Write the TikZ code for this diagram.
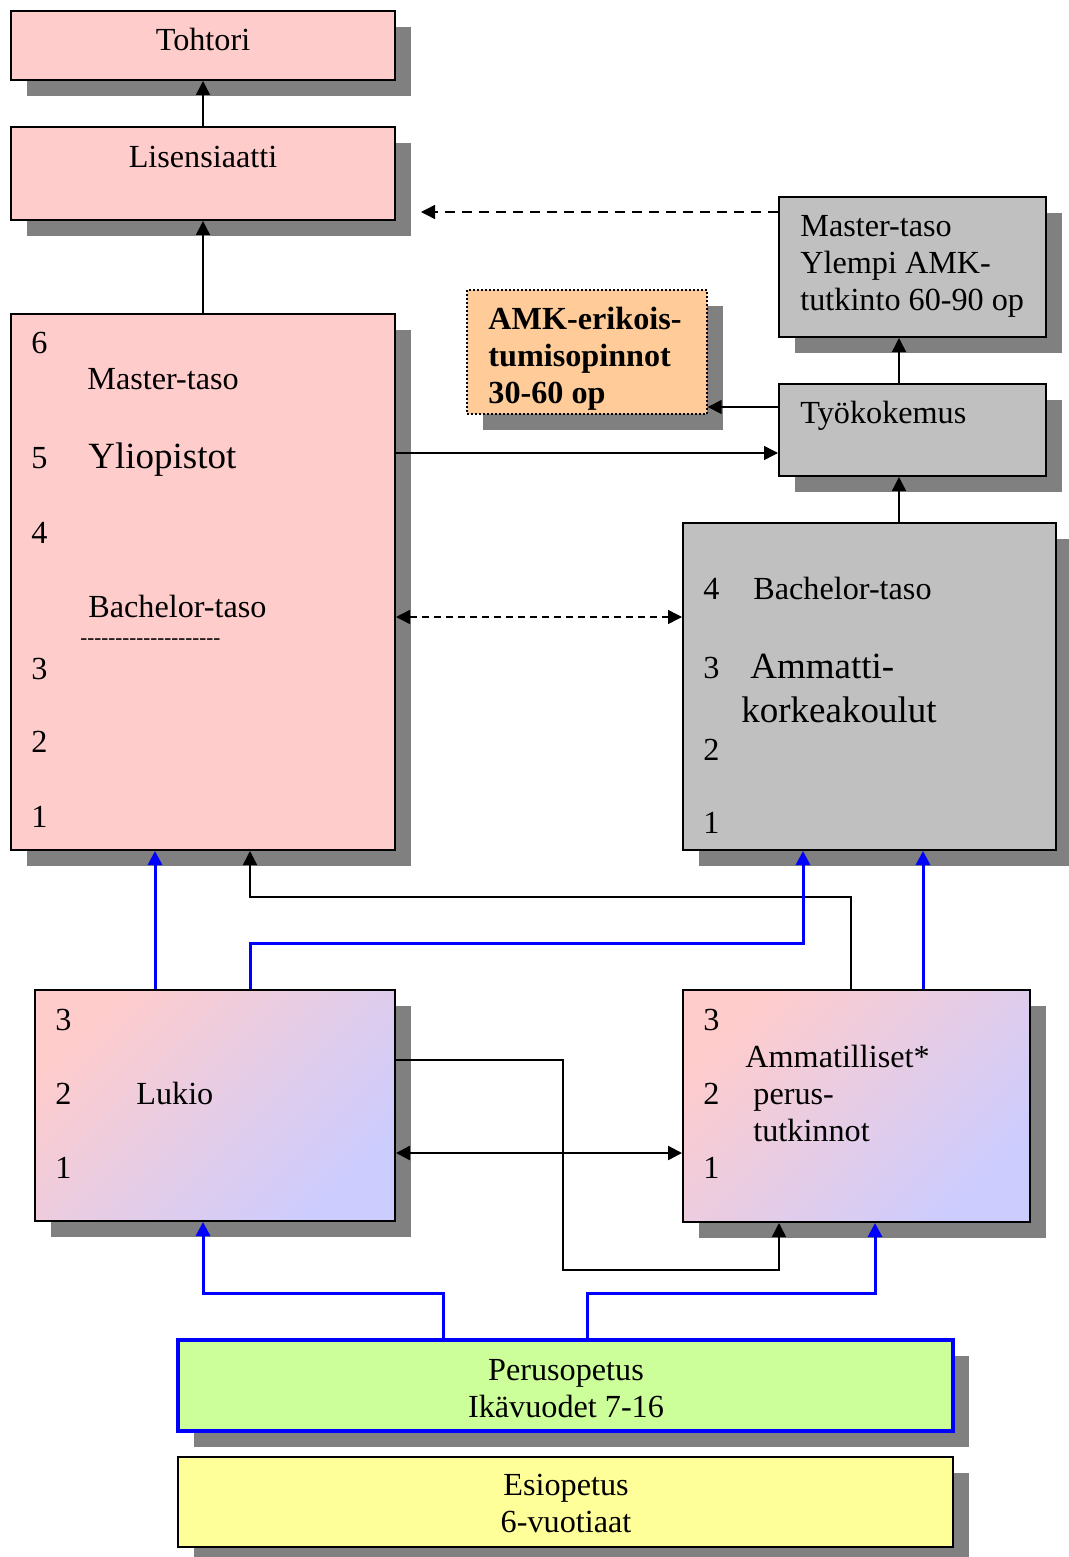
\documentclass[tikz,border=0pt]{standalone}
\usepackage{fontspec}
\setmainfont{Liberation Serif}[Ligatures=TeXOff]
\usepackage{tikz}
\usetikzlibrary{arrows.meta,calc,shadows,positioning}
\definecolor{vpink}{HTML}{FFCCCC}
\definecolor{vgray}{HTML}{C0C0C0}
\definecolor{varjo}{HTML}{808080}
\definecolor{vorange}{HTML}{FFCC99}
\definecolor{vgreen}{HTML}{CCFF99}
\definecolor{vyellow}{HTML}{FFFF99}
\definecolor{vlila}{HTML}{CCCCFF}
\newcommand\tavallinen{\fontsize{16.1}{18.5}\selectfont}
\newcommand\isofontti{\fontsize{18.5}{22}\selectfont}
\tikzset{
    %Define standard arrow tip
    >={Triangle[length=7pt,width=7pt]},
    %Define style for boxes
    laatikko/.style={
           rectangle,
           draw=black, line width=1pt,
           inner sep=0pt,
           drop shadow={shadow xshift=8pt,shadow yshift=-8pt,fill=varjo,opacity=1}},
    pinkrect/.style={laatikko, fill=vpink},
    grayrect/.style={laatikko, fill=vgray},
    shadedrect/.style={
           laatikko,
           top color=vpink, bottom color=vlila,
           shading angle=45},
    orangerect/.style={laatikko, fill=vorange, densely dotted, line width=0.7pt},
    greenrect/.style={laatikko, fill=vgreen, draw=blue, line width=2pt},
    yellowrect/.style={laatikko, fill=vyellow},
    %Define style for texts (multi-line: base is the last line)
    teksti/.style={anchor=base west, inner sep=0pt, font=\tavallinen, align=left},
    iso/.style={teksti, font=\isofontti},
    % Define arrow style
    nuoli/.style={->, draw=black, line width=0.75pt},
    sininen/.style={->, draw=blue, line width=1.5pt}
}
\begin{document}
\begin{tikzpicture}[x=0.5pt,y=-0.5pt]
\useasboundingbox (0,0) rectangle (1069,1557);
 %boxes
\node[pinkrect, minimum width=192pt, minimum height=34.5pt] (toh) at (203,45.5) {};
\node[pinkrect, minimum width=192pt, minimum height=46.5pt] (lis) at (203,173.5) {};
\node[pinkrect, minimum width=192pt, minimum height=268pt] (yo) at (203,582) {};
\node[orangerect, minimum width=120pt, minimum height=62pt] (erik) at (587,352) {};
\node[grayrect, minimum width=133.5pt, minimum height=70pt] (yamk) at (912.5,267) {};
\node[grayrect, minimum width=133.5pt, minimum height=46pt] (tyo) at (912.5,430) {};
\node[grayrect, minimum width=186.5pt, minimum height=163.5pt] (amk) at (869.5,686.5) {};
\node[shadedrect, minimum width=180pt, minimum height=115.5pt] (lukio) at (215,1105.5) {};
\node[shadedrect, minimum width=173.5pt, minimum height=116pt] (amm) at (856.5,1106) {};
\node[greenrect, minimum width=387.5pt, minimum height=45.5pt] (peru) at (565.5,1385.5) {};
\node[yellowrect, minimum width=387.5pt, minimum height=45pt] (esi) at (565.5,1502) {};
 %texts
\node[teksti, anchor=base] (tohtxt) at (203,51) {Tohtori};
\node[teksti, anchor=base] (listxt) at (203,168) {Lisensiaatti};
\node[teksti] (y6) at (31,353) {6};
\node[teksti] (y5) at (31,468) {5};
\node[teksti] (y4) at (31,543) {4};
\node[teksti] (y3) at (31,679) {3};
\node[teksti] (y2) at (31,752) {2};
\node[teksti] (y1) at (31,827) {1};
\node[teksti] (ymaster) at (87,389) {Master-taso};
\node[iso] (yotxt) at (88,468) {Yliopistot};
\node[teksti] (ybach) at (88,617) {Bachelor-taso};
\node[teksti, font=\fontsize{10.5}{12}\selectfont] (yviiva) at (80,644) {--------------------};
\node[teksti, font=\tavallinen\bfseries] (eriktxt) at (488,403) {AMK-erikois-\\tumisopinnot\\30-60 op};
\node[teksti] (yamktxt) at (800,310) {Master-taso\\Ylempi AMK-\\tutkinto 60-90 op};
\node[teksti] (tyotxt) at (800,423) {Työkokemus};
\node[teksti] (a4) at (703,599) {4};
\node[teksti] (a3) at (703,678) {3};
\node[teksti] (a2) at (703,760) {2};
\node[teksti] (a1) at (703,833) {1};
\node[teksti] (abach) at (753,599) {Bachelor-taso};
\node[iso] (amktxt) at (750,678) {Ammatti-};
\node[iso] (amktxt2) at (741,722) {korkeakoulut};
\node[teksti] (l3) at (55,1030) {3};
\node[teksti] (l2) at (55,1104) {2};
\node[teksti] (l1) at (55,1178) {1};
\node[teksti] (lukiotxt) at (136,1104) {Lukio};
\node[teksti] (m3) at (703,1030) {3};
\node[teksti] (m2) at (703,1104) {2};
\node[teksti] (m1) at (703,1178) {1};
\node[teksti] (ammtxt) at (745,1067) {Ammatilliset*};
\node[teksti] (ammtxt2) at (753,1141) {perus-\\tutkinnot};
\node[teksti, anchor=base, align=center] (perutxt) at (566,1417) {Perusopetus\\Ikävuodet 7-16};
\node[teksti, anchor=base, align=center] (esitxt) at (566,1532) {Esiopetus\\6-vuotiaat};
 %connectors
\draw[nuoli] (lis.north) -- (toh.south);
\draw[nuoli] (yo.north) -- (lis.south);
\draw[nuoli, dash pattern=on 5pt off 3.5pt, shorten >=12.5pt] (yamk.west |- 0,212) -- (lis.east |- 0,212);
\draw[nuoli] (tyo.west |- 0,407) -- (erik.east |- 0,407);
\draw[nuoli] (yo.east |- 0,453) -- (tyo.west |- 0,453);
\draw[nuoli] (tyo.north -| 899,0) -- (yamk.south -| 899,0);
\draw[nuoli] (amk.north -| 899,0) -- (tyo.south -| 899,0);
\draw[nuoli, <->, dash pattern=on 3.5pt off 2.5pt] (yo.east |- 0,617) -- (amk.west |- 0,617);
\draw[nuoli] (amm.north -| 851,0) |- (250,897) -- (yo.south -| 250,0);
\draw[sininen] (lukio.north -| 155,0) -- (yo.south -| 155,0);
\draw[sininen] (lukio.north -| 250,0) |- (803,943) -- (amk.south -| 803,0);
\draw[sininen] (amm.north -| 923,0) -- (amk.south -| 923,0);
\draw[nuoli] (lukio.east |- 0,1060) -| (563,1270) -| (amm.south -| 779,0);
\draw[nuoli, <->, line width=1.2pt] (lukio.east |- 0,1153) -- (amm.west |- 0,1153);
\draw[sininen] (peru.north -| 443,0) |- (203,1293) -- (lukio.south -| 203,0);
\draw[sininen] (peru.north -| 587,0) |- (875,1293) -- (amm.south -| 875,0);
\end{tikzpicture}
\end{document}
